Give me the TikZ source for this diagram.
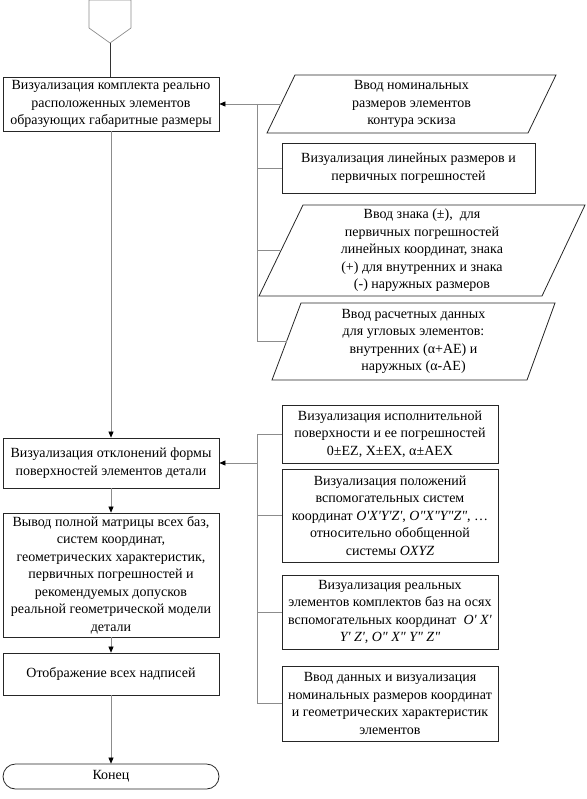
\documentclass[tikz,border=0pt]{standalone}
\usepackage{fontspec}
\setmainfont{Liberation Serif}[Ligatures=TeXOff]
\usetikzlibrary{arrows.meta}
\begin{document}
\begin{tikzpicture}[x=1pt,y=-1pt,
  font=\fontsize{14}{17.5}\selectfont,
  box/.style={draw=black!85, line width=0.8pt, align=center, inner sep=0pt, minimum width=216pt},
  rbox/.style={draw=black!85, line width=0.8pt, align=center, inner sep=0pt},
  txt/.style={align=center, inner sep=0pt},
  pbox/.style={draw=black!85, line width=0.8pt},
  conn/.style={draw=black!45, line width=0.6pt},
  arr/.style={conn, -{Triangle[length=6pt,width=5pt,black]}}]
\useasboundingbox (0,0) rectangle (586,799);

% start off-page connector
\draw[draw=black!45, line width=0.7pt] (89,0) -- (131,0) -- (131,28) -- (110,43) -- (89,28) -- cycle;
\coordinate (s) at (110,43);

% left column
\node[box, minimum height=54pt] (b1) at (111,104) {Визуализация комплекта реально\\расположенных элементов\\образующих габаритные размеры};
\node[box, minimum height=50pt] (b2) at (111,463) {Визуализация отклонений формы\\поверхностей элементов детали};
\node[box, minimum height=124pt] (b3) at (111,575) {Вывод полной матрицы всех баз,\\систем координат,\\геометрических характеристик,\\первичных погрешностей и\\рекомендуемых допусков\\реальной геометрической модели\\детали};
\node[box, minimum height=42pt] (b4) at (111,674) {Отображение всех надписей};
\node[box, minimum height=25pt, rounded corners=12.5pt] (e) at (111,776.5) {Конец};

\draw[draw=black!80, line width=0.7pt] (s) -- (b1.north -| s);
\draw[arr] (b1.south) -- (b2.north);
\draw[arr] (b2.south) -- (b3.north);
\draw[arr] (b3.south) -- (b4.north);
\draw[arr] (b4.south) -- (e.north);

% right group 1
\draw[pbox] (295,75) -- (556,75) -- (528,133) -- (267,133) -- cycle;
\node[txt] (p1) at (411.5,104) {Ввод номинальных\\размеров элементов\\контура эскиза};
\coordinate (p1w) at (281,104);

\node[rbox, minimum width=253pt, minimum height=50pt] (r1) at (408.5,168) {Визуализация линейных размеров и\\первичных погрешностей};

\draw[pbox] (303,205) -- (585,205) -- (542,296) -- (259,296) -- cycle;
\node[txt] (p3) at (422,250.5) {Ввод знака (±),~ для\\первичных погрешностей\\линейных координат, знака\\(+) для внутренних и знака\\(-) наружных размеров};
\coordinate (p3w) at (281,250.5);

\draw[pbox] (301,303) -- (555,303) -- (527,380) -- (272,380) -- cycle;
\node[txt] (p4) at (413.5,341.5) {Ввод расчетных данных\\для угловых элементов:\\внутренних (α+AE) и\\наружных (α-AE)};
\coordinate (p4w) at (286.5,341.5);

\coordinate (v1t) at (257,104);
\coordinate (v1b) at (257,341.5);
\draw[arr] (p1w) -- (b1.east);
\draw[conn] (v1t) -- (v1b);
\draw[conn] (r1.west -| v1t) -- (r1.west);
\draw[conn] (p3w -| v1t) -- (p3w);
\draw[conn] (v1b) -- (p4w);

% right group 2
\node[rbox, minimum width=216pt, minimum height=58pt] (q1) at (390,434) {Визуализация исполнительной\\поверхности и ее погрешностей\\0±EZ, X±EX, α±AEX};
\node[rbox, minimum width=216pt, minimum height=93pt] (q2) at (390,515.5) {Визуализация положений\\вспомогательных систем\\координат \textit{O'X'Y'Z'}, \textit{O"X"Y"Z"}, …\\относительно обобщенной\\системы \textit{OXYZ}};
\node[rbox, minimum width=216pt, minimum height=74pt] (q3) at (390,612) {Визуализация реальных\\элементов комплектов баз на осях\\вспомогательных координат~ \textit{O' X'}\\\textit{Y' Z', O" X" Y" Z"}};
\node[rbox, minimum width=216pt, minimum height=75pt] (q4) at (390,703.5) {Ввод данных и визуализация\\номинальных размеров координат\\и геометрических характеристик\\элементов};

\coordinate (v2t) at (257,434);
\coordinate (v2b) at (257,703.5);
\draw[conn] (v2t) -- (v2b);
\draw[conn] (v2t) -- (q1.west);
\draw[conn] (q2.west -| v2t) -- (q2.west);
\draw[conn] (q3.west -| v2t) -- (q3.west);
\draw[conn] (v2b) -- (q4.west);
\draw[arr] (b2.east -| v2t) -- (b2.east);
\end{tikzpicture}
\end{document}
